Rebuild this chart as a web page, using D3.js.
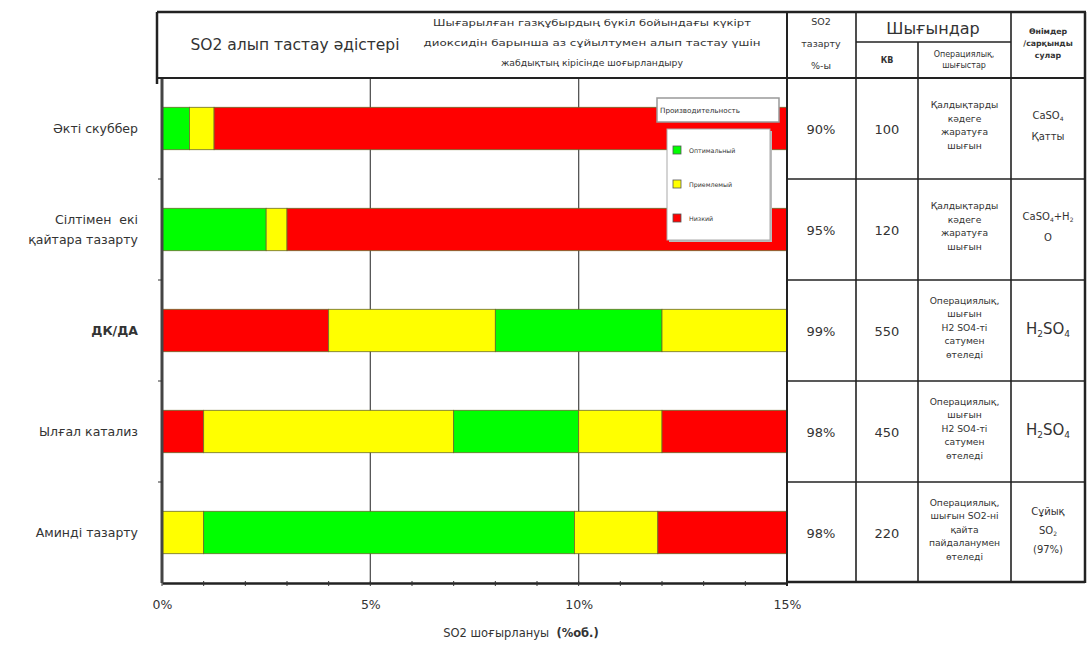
<!DOCTYPE html>
<html><head><meta charset="utf-8">
<script src="https://cdn.jsdelivr.net/npm/d3@7"></script>
<style>
body{margin:0;background:#fff;}
text{font-family:"DejaVu Sans",sans-serif;fill:#333;}
</style></head>
<body><svg id="c" width="1089" height="650"></svg>
<script>
// ---- data ----
const categories = ["Әкті скуббер","Сілтімен \u00a0екі|қайтара тазарту","ДК/ДА","Ылғал катализ","Аминді тазарту"];
const segmentEnds = [
  [0.66, 1.25, 15],
  [2.5, 3.0, 15],
  [4, 8, 12, 15],
  [1, 7, 10, 12, 15],
  [1, 9.9, 11.9, 15]
];
const segmentLevels = [
  ["opt","acc","low"],
  ["opt","acc","low"],
  ["low","acc","opt","acc"],
  ["low","acc","opt","acc","low"],
  ["acc","opt","acc","low"]
];
const levelKeys = ["opt","acc","low"];
const levelNames = ["Оптимальный","Приемлемый","Низкий"];
const legendTitle = "Производительность";
const xTicks = [0,5,10,15];
const reduction = ["90%","95%","99%","98%","98%"];
const capex = ["100","120","550","450","220"];
const opex = [
  ["Қалдықтарды","кәдеге","жаратуға","шығын"],
  ["Қалдықтарды","кәдеге","жаратуға","шығын"],
  ["Операциялық,","шығын","H2 SO4-ті","сатумен","өтеледі"],
  ["Операциялық,","шығын","H2 SO4-ті","сатумен","өтеледі"],
  ["Операциялық,","шығын SO2-ні","қайта","пайдаланумен","өтеледі"]
];
const products = [["CaSO₄","Қатты"],["CaSO₄+H₂","O"],["H₂SO₄"],["H₂SO₄"],["Сұйық","SO₂","(97%)"]];
const headerLeft = "SO2 алып тастау әдістері";
const headerMid = ["Шығарылған газқұбырдың бүкіл бойындағы күкірт","диоксидін барынша аз сұйылтумен алып тастау үшін","жабдықтың кірісінде шоғырландыру"];
const xTitle = "SO2 шоғырлануы";
const xTitleUnit = "(%об.)";

// ---- drawing ----
const svg = d3.select("#c");
const color = d3.scaleOrdinal().domain(levelKeys).range(["#00ff00","#ffff00","#ff0000"]);
const x = d3.scaleLinear().domain([0,15]).range([162,787]);
const y = d3.scaleBand().domain(categories).range([78,583]).paddingInner(0.58).paddingOuter(0.29);
const boxTop = 12, headBot = 78, bottom = 583;
const cols = [787, 856, 918, 1011, 1085];
const step = y.step();
const subMap = {"₀":"0","₁":"1","₂":"2","₃":"3","₄":"4","₅":"5","₆":"6","₇":"7","₈":"8","₉":"9"};

function formula(sel, str, fs){
  // split into normal runs and subscript runs
  const parts = [];
  for (const ch of str){
    const sub = ch in subMap;
    const last = parts[parts.length-1];
    if (last && last.sub===sub) last.t += sub?subMap[ch]:ch;
    else parts.push({sub, t: sub?subMap[ch]:ch});
  }
  parts.forEach(p=>{
    const ts = sel.append("tspan").text(p.t);
    if (p.sub) ts.attr("font-size",fs*0.6).attr("dy",fs*0.22);
    else ts.attr("dy", 0);
  });
  // reset dy after each subscript run
  let prevSub=false;
  sel.selectAll("tspan").each(function(d,i){
    const isSub = parts[i].sub;
    if (!isSub && prevSub) d3.select(this).attr("dy",-fs*0.22);
    prevSub = isSub;
  });
}

// gridlines
svg.append("g").selectAll("line").data([5,10]).join("line")
  .attr("x1",d=>x(d)).attr("x2",d=>x(d)).attr("y1",headBot).attr("y2",bottom)
  .attr("stroke","#555").attr("stroke-width",1.3);

// bars
categories.forEach((c,i)=>{
  const ends = segmentEnds[i];
  const segs = ends.map((e,j)=>({x0: j===0?0:ends[j-1], x1:e, lvl: segmentLevels[i][j]}));
  svg.append("g").selectAll("rect").data(segs).join("rect")
    .attr("x",d=>x(d.x0)).attr("width",d=>x(d.x1)-x(d.x0))
    .attr("y",y(c)).attr("height",y.bandwidth())
    .attr("fill",d=>color(d.lvl)).attr("stroke","#6b6b2a").attr("stroke-width",0.8);
});

// x axis
const xAxis = d3.axisBottom(x).tickValues(xTicks).tickFormat(d=>d+"%").tickSize(0).tickPadding(17);
const gx = svg.append("g").attr("transform",`translate(0,${bottom})`).call(xAxis);
gx.select(".domain").attr("stroke","#222").attr("stroke-width",2.5);
gx.selectAll("text").attr("font-size",12.5).attr("fill","#444").style("font-family","DejaVu Sans");
// minor ticks
svg.append("g").selectAll("line").data(d3.range(0,16)).join("line")
  .attr("x1",d=>x(d)).attr("x2",d=>x(d)).attr("y1",bottom-2).attr("y2",bottom+3)
  .attr("stroke","#333").attr("stroke-width",1);

// y axis line
svg.append("line").attr("x1",162).attr("x2",162).attr("y1",headBot).attr("y2",bottom)
  .attr("stroke","#444").attr("stroke-width",3);
svg.append("g").selectAll("line").data(d3.range(1,5)).join("line")
  .attr("x1",158).attr("x2",162).attr("y1",d=>headBot+d*step).attr("y2",d=>headBot+d*step)
  .attr("stroke","#333");

// category labels
categories.forEach((c,i)=>{
  const lines = c.split("|");
  const cy = y(c)+y.bandwidth()/2;
  const t = svg.append("text").attr("x",138).attr("text-anchor","end")
    .attr("font-size",12.5).attr("fill","#333").attr("font-weight", i===2?"bold":"normal");
  lines.forEach((l,k)=>{
    t.append("tspan").attr("x",138).attr("y",cy + (k-(lines.length-1)/2)*20 + 4.5).text(l);
  });
});

// x title
const xt = svg.append("text").attr("x",521).attr("y",637).attr("text-anchor","middle").attr("font-size",11.5);
xt.append("tspan").text(xTitle+"\u00a0\u00a0");
xt.append("tspan").attr("font-weight","bold").text(xTitleUnit);

// header box and table lines
const L = svg.append("g").attr("stroke","#222").attr("fill","none");
L.append("line").attr("x1",157).attr("x2",1086).attr("y1",boxTop).attr("y2",boxTop).attr("stroke-width",2.5);
L.append("line").attr("x1",157).attr("x2",157).attr("y1",boxTop).attr("y2",headBot+6).attr("stroke-width",2.5);
L.append("line").attr("x1",157).attr("x2",cols[4]).attr("y1",headBot).attr("y2",headBot).attr("stroke-width",2);
L.append("line").attr("x1",cols[4]).attr("x2",cols[4]).attr("y1",boxTop).attr("y2",bottom).attr("stroke-width",2.5);
L.append("line").attr("x1",cols[0]).attr("x2",cols[4]).attr("y1",bottom-1).attr("y2",bottom-1).attr("stroke-width",2.5);
L.append("line").attr("x1",cols[0]).attr("x2",cols[0]).attr("y1",boxTop).attr("y2",bottom+3).attr("stroke-width",2);
[1,3].forEach(k=>L.append("line").attr("x1",cols[k]).attr("x2",cols[k]).attr("y1",boxTop).attr("y2",bottom).attr("stroke-width",1.6));
L.append("line").attr("x1",cols[2]).attr("x2",cols[2]).attr("y1",42).attr("y2",bottom).attr("stroke-width",1.6);
L.append("line").attr("x1",cols[1]).attr("x2",cols[3]).attr("y1",42).attr("y2",42).attr("stroke-width",1.6);
d3.range(1,5).forEach(k=>L.append("line").attr("x1",cols[0]).attr("x2",cols[4])
  .attr("y1",headBot+k*step).attr("y2",headBot+k*step).attr("stroke-width",1.6));

// header texts
svg.append("text").attr("x",295).attr("y",50).attr("text-anchor","middle").attr("font-size",15.5).attr("fill","#222").text(headerLeft);
const midLens = [318, 337, 182];
headerMid.forEach((l,k)=>svg.append("text").attr("x",592).attr("y",26+k*20).attr("text-anchor","middle")
  .attr("font-size",9.5).attr("textLength",midLens[k]).attr("lengthAdjust","spacingAndGlyphs").attr("fill","#333").text(l));
["SO2","тазарту","%-ы"].forEach((l,k)=>svg.append("text").attr("x",821).attr("y",25+k*22).attr("text-anchor","middle").attr("font-size",9.5).text(l));
svg.append("text").attr("x",933).attr("y",34).attr("text-anchor","middle").attr("font-size",16).attr("fill","#222").text("Шығындар");
svg.append("text").attr("x",887).attr("y",63).attr("text-anchor","middle").attr("font-size",8).attr("font-weight","bold").text("КВ");
["Операциялық,","шығыстар"].forEach((l,k)=>svg.append("text").attr("x",964).attr("y",57+k*11).attr("text-anchor","middle").attr("font-size",8).text(l));
["Өнімдер","/сарқынды","сулар"].forEach((l,k)=>svg.append("text").attr("x",1048).attr("y",34+k*12).attr("text-anchor","middle").attr("font-size",7.8).attr("font-weight","bold").attr("fill","#444").text(l));

// table body
categories.forEach((c,i)=>{
  const cy = headBot + i*step + step/2;
  svg.append("text").attr("x",821).attr("y",cy+5).attr("text-anchor","middle").attr("font-size",13).text(reduction[i]);
  svg.append("text").attr("x",887).attr("y",cy+5).attr("text-anchor","middle").attr("font-size",13).text(capex[i]);
  const o = opex[i];
  o.forEach((l,k)=>svg.append("text").attr("x",964.5).attr("y",cy-3+(k-(o.length-1)/2)*13.5+3)
    .attr("text-anchor","middle").attr("font-size",9.2).text(l));
  const p = products[i];
  const big = p.length===1;
  const sp = p.length===3 ? 19 : 21;
  p.forEach((l,k)=>{
    const fs = big?15:10;
    const t = svg.append("text").attr("x",1048).attr("y",cy-2+(k-(p.length-1)/2)*sp+(big?5:3))
      .attr("text-anchor","middle").attr("font-size",fs);
    formula(t, l, fs);
  });
});

// legend
const lg = svg.append("g");
lg.append("rect").attr("x",657).attr("y",98).attr("width",122).attr("height",24).attr("fill","#fff").attr("stroke","#999").attr("stroke-width",1.5);
lg.append("text").attr("x",660).attr("y",113).attr("font-size",7.2).attr("fill","#333").text(legendTitle);
lg.append("rect").attr("x",669).attr("y",131).attr("width",103).attr("height",111).attr("fill","#bbb");
lg.append("rect").attr("x",667).attr("y",129).attr("width",103).attr("height",111).attr("fill","#fff").attr("stroke","#aaa");
levelKeys.forEach((k,i)=>{
  const yy = 150 + i*34;
  lg.append("rect").attr("x",673).attr("y",yy-4).attr("width",8).attr("height",8).attr("fill",color(k)).attr("stroke","#555").attr("stroke-width",0.8);
  lg.append("text").attr("x",689).attr("y",yy+2.5).attr("font-size",6.3).attr("fill","#777").text(levelNames[i]);
});
</script></body></html>
